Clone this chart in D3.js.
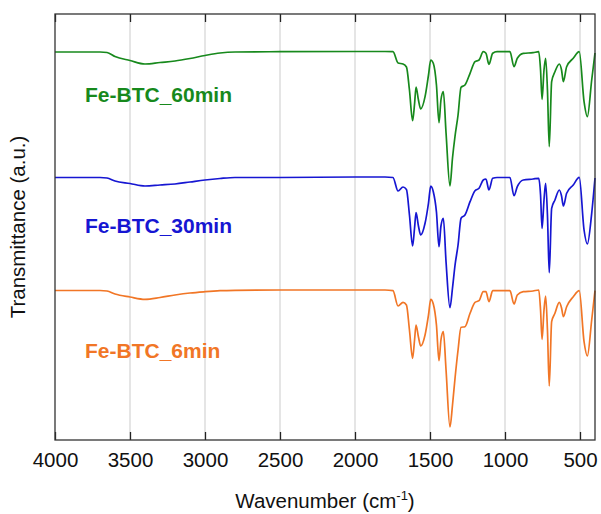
<!DOCTYPE html>
<html>
<head>
<meta charset="utf-8">
<script src="https://cdn.jsdelivr.net/npm/d3@7"></script>
<style>
  html, body { margin: 0; padding: 0; background: #fff; }
  svg { display: block; font-family: "Liberation Sans", Arial, Helvetica, sans-serif; }
</style>
</head>
<body>
<svg id="chart" width="601" height="514"></svg>
<script>
// FTIR spectra of Fe-BTC samples at three synthesis times (stacked, arbitrary units)
const wavenumbers = [4000, 3700, 3653, 3600, 3500, 3400, 3300, 3200, 3100, 3000, 2900, 2800, 2500, 2000, 1800,
  1747, 1713, 1680, 1657, 1637, 1616, 1603, 1593, 1577, 1562, 1533, 1510, 1495, 1478, 1457, 1440, 1427, 1411,
  1393, 1367, 1350, 1333, 1313, 1293, 1267, 1233, 1200, 1173, 1145, 1127, 1107, 1082, 1053, 967, 940, 918, 878,
  813, 775, 763, 753, 740, 729, 717, 705, 689, 667, 638, 623, 611, 589, 545, 505, 473, 451, 422, 400];

const fe60 = [38.80, 38.80, 38.75, 38.35, 37.95, 37.60, 37.75, 37.90, 38.15, 38.45, 38.70, 38.80, 38.83, 38.85, 38.85,
  38.83, 37.70, 37.60, 37.30, 35.00, 31.93, 33.60, 35.30, 34.00, 33.10, 34.33, 36.50, 38.00, 37.67, 35.50, 31.73, 34.00, 34.83,
  30.70, 25.40, 28.20, 30.40, 32.50, 35.27, 35.50, 36.67, 37.83, 38.00, 38.83, 38.67, 37.57, 38.67, 38.83, 38.83, 37.33, 38.17, 38.67,
  38.73, 38.83, 37.00, 34.07, 37.00, 38.17, 35.00, 29.33, 35.83, 36.83, 37.60, 37.00, 35.83, 37.33, 38.17, 38.83, 33.83, 32.33, 36.00, 38.70];

const fe30 = [26.25, 26.25, 26.20, 25.90, 25.65, 25.40, 25.50, 25.60, 25.80, 26.00, 26.15, 26.25, 26.25, 26.30, 26.30,
  26.25, 24.90, 25.30, 25.05, 22.50, 19.40, 21.20, 22.73, 21.40, 20.50, 21.67, 23.70, 25.40, 24.83, 22.80, 19.33, 21.40, 22.17,
  17.80, 13.23, 15.20, 17.50, 19.50, 22.17, 22.50, 23.83, 24.93, 25.17, 26.00, 26.10, 25.00, 26.17, 26.25, 26.25, 24.43, 25.33, 26.00,
  26.10, 26.17, 24.50, 21.17, 24.00, 25.67, 22.50, 16.73, 23.17, 24.00, 25.00, 24.40, 23.40, 24.67, 25.50, 26.27, 21.00, 19.60, 22.67, 26.20];

const fe6 = [14.95, 14.95, 14.90, 14.60, 14.30, 14.07, 14.25, 14.50, 14.70, 14.83, 14.93, 14.97, 15.00, 15.00, 15.00,
  14.93, 13.40, 13.77, 13.50, 11.00, 8.17, 10.00, 11.50, 10.30, 9.40, 10.50, 12.50, 14.07, 13.60, 11.50, 7.93, 10.00, 10.83,
  7.00, 1.30, 3.50, 6.20, 9.00, 11.27, 11.33, 12.67, 13.77, 13.93, 14.83, 14.83, 13.83, 14.93, 14.93, 14.93, 13.60, 14.50, 14.83,
  14.90, 15.00, 13.00, 10.07, 13.00, 14.40, 11.00, 5.40, 11.83, 12.67, 13.77, 13.20, 12.33, 13.33, 14.33, 14.93, 9.83, 8.40, 12.00, 14.93];

const seriesNames = ["Fe-BTC_60min", "Fe-BTC_30min", "Fe-BTC_6min"];
const seriesColors = ["#17891c", "#1616d2", "#f17626"];
const xTicks = [4000, 3500, 3000, 2500, 2000, 1500, 1000, 500];

const margin = { left: 55, right: 6, top: 14, bottom: 74 };
const W = 601, H = 514;
const svg = d3.select("#chart");

const x = d3.scaleLinear().domain([4000, 400]).range([margin.left, W - margin.right]);
const y = d3.scaleLinear().domain([0, 42.6]).range([H - margin.bottom, margin.top]);

// vertical grid lines
svg.append("g")
  .selectAll("line")
  .data(xTicks.slice(1))
  .join("line")
  .attr("x1", d => x(d)).attr("x2", d => x(d))
  .attr("y1", y.range()[1]).attr("y2", y.range()[0])
  .attr("stroke", "#dcdcdc").attr("stroke-width", 1.5);

// spectra
const line = d3.line()
  .x((d, i) => x(wavenumbers[i]))
  .y(d => y(d))
  .curve(d3.curveMonotoneX);

const spectra = [fe60, fe30, fe6];
svg.append("g")
  .selectAll("path")
  .data(spectra)
  .join("path")
  .attr("d", d => line(d))
  .attr("fill", "none")
  .attr("stroke", (d, i) => seriesColors[i])
  .attr("stroke-width", 1.7)
  .attr("stroke-linejoin", "round");

// bottom axis with inward ticks
const xAxis = d3.axisBottom(x).tickValues(xTicks).tickFormat(d3.format("d"))
  .tickSizeInner(-8).tickSizeOuter(0).tickPadding(12);
const gx = svg.append("g").attr("transform", `translate(0,${y.range()[0]})`).call(xAxis);
gx.select(".domain").remove();
gx.selectAll(".tick line").attr("stroke", "#222").attr("stroke-width", 1.3);
gx.selectAll(".tick text").attr("font-size", 20.5).attr("fill", "#111")
  .attr("font-family", "'Liberation Sans', Arial, sans-serif");

// top ticks
const xTop = d3.axisTop(x).tickValues(xTicks).tickFormat("").tickSizeInner(-8).tickSizeOuter(0);
const gt = svg.append("g").attr("transform", `translate(0,${y.range()[1]})`).call(xTop);
gt.select(".domain").remove();
gt.selectAll(".tick line").attr("stroke", "#222").attr("stroke-width", 1.3);

// frame
svg.append("rect")
  .attr("x", x.range()[0]).attr("y", y.range()[1])
  .attr("width", x.range()[1] - x.range()[0])
  .attr("height", y.range()[0] - y.range()[1])
  .attr("fill", "none").attr("stroke", "#333").attr("stroke-width", 1.3);

// series labels, placed below each trace's baseline
const labelY = [33.85, 20.67, 8.17];
svg.append("g")
  .selectAll("text")
  .data(seriesNames)
  .join("text")
  .attr("x", x(3800))
  .attr("y", (d, i) => y(labelY[i]))
  .attr("fill", (d, i) => seriesColors[i])
  .attr("font-size", 21).attr("font-weight", "bold")
  .text(d => d);

// axis titles
const xt = svg.append("text")
  .attr("x", (x.range()[0] + x.range()[1]) / 2)
  .attr("y", 508)
  .attr("text-anchor", "middle")
  .attr("font-size", 20.5).attr("fill", "#111");
xt.append("tspan").text("Wavenumber (cm");
xt.append("tspan").text("-1").attr("font-size", 13).attr("dy", -8);
xt.append("tspan").text(")").attr("dy", 8);

svg.append("text")
  .attr("transform", `translate(25,${(y.range()[0] + y.range()[1]) / 2}) rotate(-90)`)
  .attr("text-anchor", "middle")
  .attr("font-size", 20.5).attr("fill", "#111")
  .text("Transmittance (a.u.)");
</script>
</body>
</html>
